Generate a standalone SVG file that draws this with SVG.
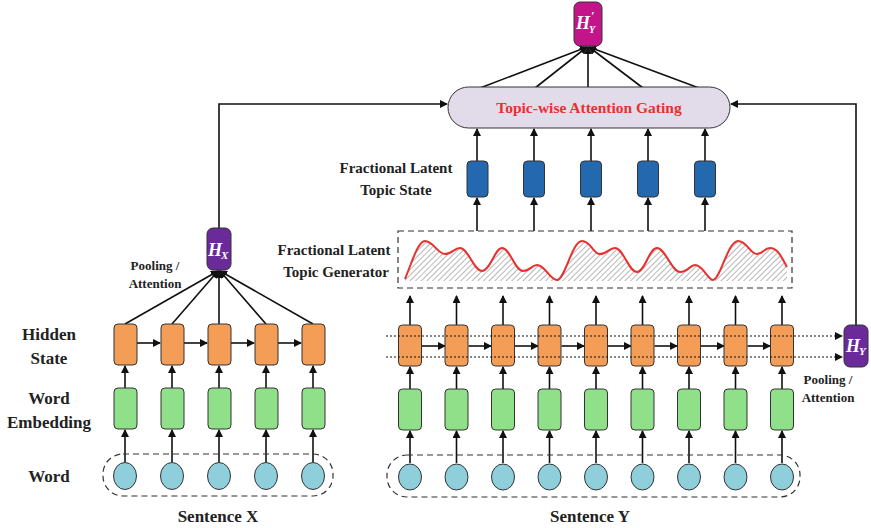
<svg xmlns="http://www.w3.org/2000/svg" width="871" height="528" viewBox="0 0 871 528">
<style>
.lbl{font-family:"Liberation Serif","Times New Roman","DejaVu Serif",serif;font-weight:bold;fill:#222;text-anchor:middle}
.hid{fill:#f49d57;stroke:#333;stroke-width:1}
.emb{fill:#90e08a;stroke:#333;stroke-width:1}
.wrd{fill:#8fcfdc;stroke:#333;stroke-width:1}
.top{fill:#2468b0;stroke:#333;stroke-width:1}
.ar{stroke:#111;stroke-width:1.6;fill:none;marker-end:url(#ah)}
.dot{stroke:#111;stroke-width:1.2;stroke-dasharray:2,2;fill:none;marker-end:url(#ah)}
.dash{fill:none;stroke:#333;stroke-width:1.2;stroke-dasharray:6,4}
.hv{font-family:"Liberation Serif","Times New Roman","DejaVu Serif",serif;font-weight:bold;font-style:italic;fill:#fff}
</style>
<defs>
<marker id="ah" markerWidth="8" markerHeight="8" refX="7" refY="4" orient="auto" markerUnits="userSpaceOnUse">
<path d="M0,0 L8,4 L0,8 Z" fill="#111"/>
</marker>
<pattern id="hatch" width="4" height="4" patternUnits="userSpaceOnUse" patternTransform="rotate(45)">
<line x1="0" y1="0" x2="0" y2="4" stroke="#888" stroke-width="1.2"/>
</pattern>
</defs>

<g id="labels">
<text class="lbl" x="49" y="340" font-size="17">Hidden</text>
<text class="lbl" x="49" y="364" font-size="17">State</text>
<text class="lbl" x="49" y="404" font-size="17">Word</text>
<text class="lbl" x="49" y="428" font-size="17">Embedding</text>
<text class="lbl" x="49" y="482" font-size="17">Word</text>
<text class="lbl" x="218" y="522" font-size="17">Sentence X</text>
<text class="lbl" x="590" y="522" font-size="17">Sentence Y</text>
<text class="lbl" x="155" y="270" font-size="13">Pooling /</text>
<text class="lbl" x="155" y="288" font-size="13">Attention</text>
<text class="lbl" x="828" y="384" font-size="13">Pooling /</text>
<text class="lbl" x="828" y="402" font-size="13">Attention</text>
<text class="lbl" x="334" y="255" font-size="15">Fractional Latent</text>
<text class="lbl" x="336" y="277" font-size="15">Topic Generator</text>
<text class="lbl" x="396" y="173" font-size="15">Fractional Latent</text>
<text class="lbl" x="396" y="195" font-size="15">Topic State</text>
</g>

<g id="connectors">
<path class="ar" d="M125,462V430"/><path class="ar" d="M172,462V430"/><path class="ar" d="M219,462V430"/><path class="ar" d="M266,462V430"/><path class="ar" d="M313,462V430"/>
<path class="ar" d="M125,388V366"/><path class="ar" d="M172,388V366"/><path class="ar" d="M219,388V366"/><path class="ar" d="M266,388V366"/><path class="ar" d="M313,388V366"/>
<path class="ar" d="M137,343H160"/><path class="ar" d="M184,343H207"/><path class="ar" d="M231,343H254"/><path class="ar" d="M278,343H301"/>
<path class="ar" d="M125,324L218,271"/><path class="ar" d="M172,324L218,271"/><path class="ar" d="M219,324V271"/><path class="ar" d="M266,324L220,271"/><path class="ar" d="M313,324L220,271"/>
<path class="ar" d="M219,228V104H447"/>
<path class="ar" d="M410,463V431"/><path class="ar" d="M456.5,463V431"/><path class="ar" d="M503,463V431"/><path class="ar" d="M549.5,463V431"/><path class="ar" d="M596,463V431"/><path class="ar" d="M642.5,463V431"/><path class="ar" d="M689,463V431"/><path class="ar" d="M735.5,463V431"/><path class="ar" d="M782,463V431"/>
<path class="ar" d="M410,389V367"/><path class="ar" d="M456.5,389V367"/><path class="ar" d="M503,389V367"/><path class="ar" d="M549.5,389V367"/><path class="ar" d="M596,389V367"/><path class="ar" d="M642.5,389V367"/><path class="ar" d="M689,389V367"/><path class="ar" d="M735.5,389V367"/><path class="ar" d="M782,389V367"/>
<path class="ar" d="M422,346H445"/><path class="ar" d="M468.5,346H491"/><path class="ar" d="M515,346H538"/><path class="ar" d="M561.5,346H584"/><path class="ar" d="M608,346H631"/><path class="ar" d="M654.5,346H677"/><path class="ar" d="M701,346H724"/><path class="ar" d="M747.5,346H770"/>
<path class="ar" d="M410,325V296"/><path class="ar" d="M456.5,325V296"/><path class="ar" d="M503,325V296"/><path class="ar" d="M549.5,325V296"/><path class="ar" d="M596,325V296"/><path class="ar" d="M642.5,325V296"/><path class="ar" d="M689,325V296"/><path class="ar" d="M735.5,325V296"/><path class="ar" d="M782,325V296"/>
<path class="ar" d="M856,325V104H731"/>
<path class="ar" d="M477,231V198"/><path class="ar" d="M534,231V198"/><path class="ar" d="M591,231V198"/><path class="ar" d="M648,231V198"/><path class="ar" d="M705,231V198"/>
<path class="ar" d="M477,161V129"/><path class="ar" d="M534,161V129"/><path class="ar" d="M591,161V129"/><path class="ar" d="M648,161V129"/><path class="ar" d="M705,161V129"/>
<path class="ar" d="M480,88L587,47"/><path class="ar" d="M535,88L587,47"/><path class="ar" d="M588,88V47"/><path class="ar" d="M643,88L589,47"/><path class="ar" d="M699,88L589,47"/>
</g>

<g id="sentX-words">
<rect class="dash" x="103" y="454" width="230" height="42" rx="20"/>
<ellipse class="wrd" cx="125" cy="476" rx="11.5" ry="13.5"/>
<ellipse class="wrd" cx="172" cy="476" rx="11.5" ry="13.5"/>
<ellipse class="wrd" cx="219" cy="476" rx="11.5" ry="13.5"/>
<ellipse class="wrd" cx="266" cy="476" rx="11.5" ry="13.5"/>
<ellipse class="wrd" cx="313" cy="476" rx="11.5" ry="13.5"/>
</g>
<g id="sentX-emb">
<rect class="emb" x="114" y="388" width="23" height="41" rx="4"/>
<rect class="emb" x="161" y="388" width="23" height="41" rx="4"/>
<rect class="emb" x="208" y="388" width="23" height="41" rx="4"/>
<rect class="emb" x="255" y="388" width="23" height="41" rx="4"/>
<rect class="emb" x="302" y="388" width="23" height="41" rx="4"/>
</g>
<g id="sentX-hidden">
<rect class="hid" x="114" y="324" width="23" height="41" rx="4"/>
<rect class="hid" x="161" y="324" width="23" height="41" rx="4"/>
<rect class="hid" x="208" y="324" width="23" height="41" rx="4"/>
<rect class="hid" x="255" y="324" width="23" height="41" rx="4"/>
<rect class="hid" x="302" y="324" width="23" height="41" rx="4"/>
</g>
<g id="HX">
<rect x="207" y="228" width="24" height="42" rx="6" fill="#6a2a9a" stroke="#333"/>
<text class="hv" x="208" y="256" font-size="18">H</text>
<text class="hv" x="221" y="259" font-size="11">X</text>
</g>

<g id="sentY-words">
<rect class="dash" x="387" y="455" width="413" height="42" rx="20"/>
<ellipse class="wrd" cx="410" cy="477" rx="11.5" ry="13"/>
<ellipse class="wrd" cx="456.5" cy="477" rx="11.5" ry="13"/>
<ellipse class="wrd" cx="503" cy="477" rx="11.5" ry="13"/>
<ellipse class="wrd" cx="549.5" cy="477" rx="11.5" ry="13"/>
<ellipse class="wrd" cx="596" cy="477" rx="11.5" ry="13"/>
<ellipse class="wrd" cx="642.5" cy="477" rx="11.5" ry="13"/>
<ellipse class="wrd" cx="689" cy="477" rx="11.5" ry="13"/>
<ellipse class="wrd" cx="735.5" cy="477" rx="11.5" ry="13"/>
<ellipse class="wrd" cx="782" cy="477" rx="11.5" ry="13"/>
</g>
<g id="sentY-emb">
<rect class="emb" x="398.5" y="389" width="23" height="41" rx="4"/>
<rect class="emb" x="445" y="389" width="23" height="41" rx="4"/>
<rect class="emb" x="491.5" y="389" width="23" height="41" rx="4"/>
<rect class="emb" x="538" y="389" width="23" height="41" rx="4"/>
<rect class="emb" x="584.5" y="389" width="23" height="41" rx="4"/>
<rect class="emb" x="631" y="389" width="23" height="41" rx="4"/>
<rect class="emb" x="677.5" y="389" width="23" height="41" rx="4"/>
<rect class="emb" x="724" y="389" width="23" height="41" rx="4"/>
<rect class="emb" x="770.5" y="389" width="23" height="41" rx="4"/>
</g>
<g id="sentY-hidden">
<rect class="hid" x="398.5" y="325" width="23" height="41" rx="4"/>
<rect class="hid" x="445" y="325" width="23" height="41" rx="4"/>
<rect class="hid" x="491.5" y="325" width="23" height="41" rx="4"/>
<rect class="hid" x="538" y="325" width="23" height="41" rx="4"/>
<rect class="hid" x="584.5" y="325" width="23" height="41" rx="4"/>
<rect class="hid" x="631" y="325" width="23" height="41" rx="4"/>
<rect class="hid" x="677.5" y="325" width="23" height="41" rx="4"/>
<rect class="hid" x="724" y="325" width="23" height="41" rx="4"/>
<rect class="hid" x="770.5" y="325" width="23" height="41" rx="4"/>
</g>
<g id="sentY-dots">
<path class="dot" d="M386,336H842"/>
<path class="dot" d="M386,357H842"/>
</g>
<g id="HY">
<rect x="844" y="325" width="24" height="42" rx="6" fill="#6a2a9a" stroke="#333"/>
<text class="hv" x="846" y="352" font-size="18">H</text>
<text class="hv" x="859" y="355" font-size="11">Y</text>
</g>

<g id="generator">
<rect class="dash" x="398" y="231" width="394" height="57"/>
<path d="M405,279 C412,262 418,241 425,241 C433,241 438,254 445,254 C452,254 454,248 460,248 C468,248 474,271 482,271 C490,271 495,248 502,248 C510,248 515,271 523,271 C530,271 532,265 537,265 C545,265 550,280 557,280 C565,280 572,241 582,241 C591,241 593,254 600,254 C607,254 609,248 615,248 C623,248 629,272 637,272 C645,272 649,248 657,248 C665,248 672,272 680,272 C688,272 690,265 695,265 C703,265 708,280 713,280 C720,280 728,241 738,241 C747,241 750,254 757,254 C763,254 764,248 770,248 C778,248 782,258 787,267 L787,281 L405,281 Z" fill="url(#hatch)" stroke="none"/>
<path d="M405,279 C412,262 418,241 425,241 C433,241 438,254 445,254 C452,254 454,248 460,248 C468,248 474,271 482,271 C490,271 495,248 502,248 C510,248 515,271 523,271 C530,271 532,265 537,265 C545,265 550,280 557,280 C565,280 572,241 582,241 C591,241 593,254 600,254 C607,254 609,248 615,248 C623,248 629,272 637,272 C645,272 649,248 657,248 C665,248 672,272 680,272 C688,272 690,265 695,265 C703,265 708,280 713,280 C720,280 728,241 738,241 C747,241 750,254 757,254 C763,254 764,248 770,248 C778,248 782,258 787,267" fill="none" stroke="#e8312f" stroke-width="2"/>
</g>

<g id="topic-states">
<rect class="top" x="467" y="161" width="21" height="36" rx="4"/>
<rect class="top" x="523.5" y="161" width="21" height="36" rx="4"/>
<rect class="top" x="580.5" y="161" width="21" height="36" rx="4"/>
<rect class="top" x="637.5" y="161" width="21" height="36" rx="4"/>
<rect class="top" x="694.5" y="161" width="21" height="36" rx="4"/>
</g>

<g id="gating">
<rect x="448" y="87" width="282" height="41" rx="20.5" fill="#e2dcea" stroke="#333"/>
<text x="589" y="113" font-family="Liberation Serif, Times New Roman, DejaVu Serif, serif" font-weight="bold" font-size="15.5" fill="#e8312f" text-anchor="middle">Topic-wise Attention Gating</text>
</g>

<g id="HY-prime">
<rect x="574" y="2" width="28" height="44" rx="6" fill="#c4148a" stroke="#333"/>
<text class="hv" x="576" y="29" font-size="18">H</text>
<text class="hv" x="591" y="20" font-size="12">′</text>
<text class="hv" x="589" y="33" font-size="10">Y</text>
</g>
</svg>
